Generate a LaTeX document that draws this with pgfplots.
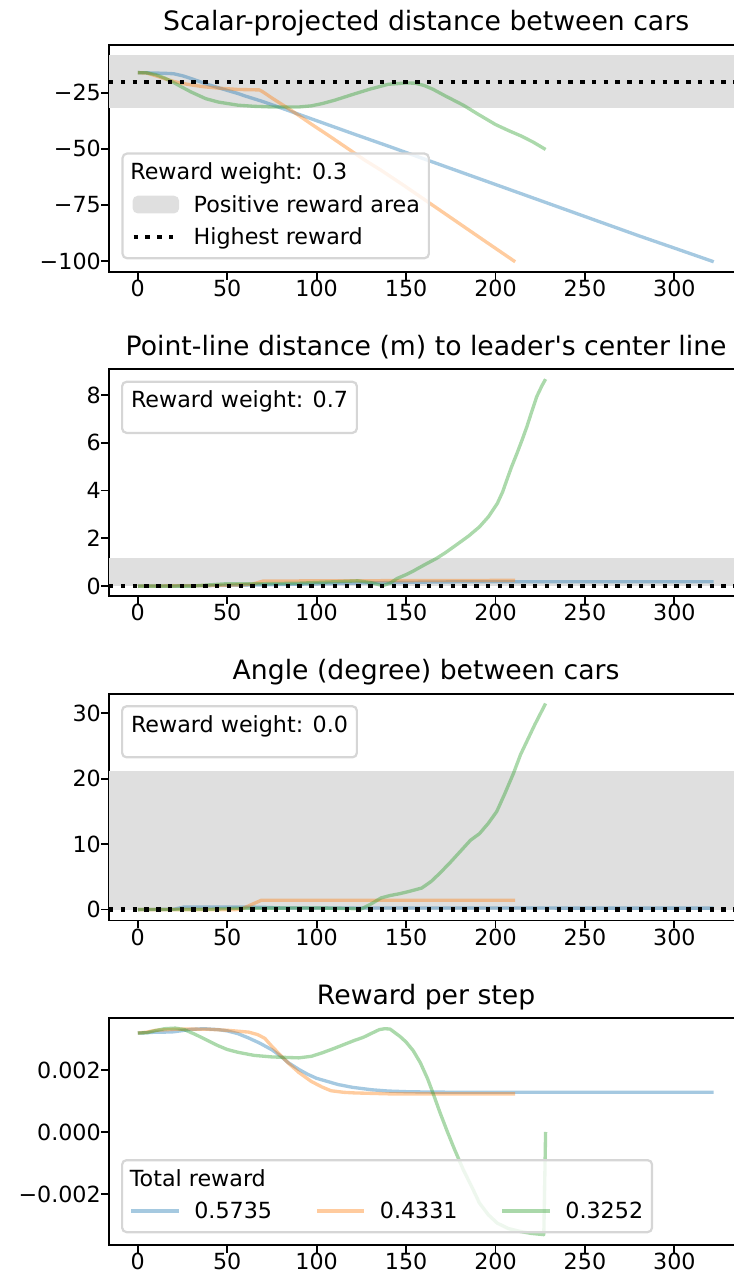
\documentclass[border=0pt]{standalone}
\usepackage{pgfplots}
\pgfplotsset{compat=1.18}
\usepackage{fontspec}
\setmainfont{DejaVu Sans}[Ligatures=TeXOff]

\definecolor{tabblue}{RGB}{31,119,180}
\definecolor{taborange}{RGB}{255,127,14}
\definecolor{tabgreen}{RGB}{44,160,44}
\definecolor{bandgray}{RGB}{223,223,223}
\definecolor{framegray}{RGB}{214,214,214}

\pgfplotsset{
  panel/.style={
    scale only axis, width=285.4pt, height=102.06pt,
    anchor=north west,
    xmin=-16.1, xmax=338.5,
    xtick={0,50,...,300},
    xticklabels={0,50,100,150,200,250,300},
    scaled y ticks=false,
    tick align=outside, tick pos=left,
    major tick length=3.5pt,
    every tick/.style={black, line width=0.8pt},
    axis line style={line width=0.8pt},
    tick label style={font=\fontsize{10}{12}\selectfont},
    xticklabel style={anchor=north, inner sep=0pt},
    yticklabel style={anchor=east, inner sep=0pt},
    every axis title/.style={at={(0.5,1)}, anchor=base, yshift=6.4pt, inner sep=0pt,
      font=\fontsize{12}{14}\selectfont},
    legend style={font=\fontsize{10}{12}\selectfont, draw=framegray, line width=1pt,
      rounded corners=2pt, fill=white, fill opacity=0.8, text opacity=1, draw opacity=1,
      inner xsep=4pt, inner ysep=4pt, row sep=5pt, column sep=8pt,
      nodes={inner sep=0pt, text height=7.7pt, text depth=2pt}},
    legend cell align=left,
  },
  data/.style={line width=1.5pt, draw opacity=0.4, line join=round, forget plot},
  band/.style={draw=none, fill=bandgray, forget plot},
  best/.style={black, line width=2pt, dash pattern=on 2pt off 3.3pt, forget plot},
  handle line/.style={legend image code/.code={\draw[##1, line cap=rect] (0pt,0.6pt) -- (20pt,0.6pt);}},
  handle patch/.style={legend image code/.code={\fill[bandgray, fill opacity=1] (0pt,-2.9pt) rectangle (20pt,4.1pt);}},
  handle dots/.style={legend image code/.code={\draw[black, line width=2pt, dash pattern=on 2pt off 3.3pt] (0pt,0.6pt) -- (20pt,0.6pt);}},
  no handle/.style={legend image code/.code={}},
}

\begin{document}
\begin{tikzpicture}

% ---------- Scalar-projected distance ----------
\begin{axis}[panel, at={(49.05pt,-20.25pt)},
  ymin=-104.76, ymax=-3.8,
  ytick={-100,-75,-50,-25}, yticklabels={−100,−75,−50,−25},
  title={Scalar-projected distance between cars},
  legend style={at={(0,0)}, anchor=south west, xshift=5.6pt, yshift=5.6pt, column sep=6pt}]
\addplot[band] coordinates {(-20,-31.7) (345,-31.7) (345,-8.2) (-20,-8.2)} -- cycle;
\addplot[data, tabblue] coordinates {
(0,-16.1) (5,-16.2) (10,-16.3) (15,-16.4) (20,-16.6) (25,-17.5) (30,-18.8) (35,-20.2)
(40,-21.6) (45,-22.8) (50,-24.0) (56,-25.4) (60,-26.5) (70,-29.0) (80,-31.8)
(100,-37.5) (120,-43.2) (140,-48.8) (160,-54.5) (180,-60.2) (200,-65.9) (220,-71.6)
(240,-77.3) (260,-83.0) (280,-88.7) (300,-94.2) (322,-100.3)};
\addplot[data, taborange] coordinates {
(0,-16.1) (5,-16.3) (10,-17.5) (15,-18.8) (20,-20.0) (25,-20.9) (30,-21.6) (37,-22.4)
(45,-23.0) (56,-23.6) (62,-23.7) (68,-23.8) (70,-24.7) (75,-27.4) (86,-33.0) (97,-39.0)
(108,-44.8) (127,-55.1) (135.5,-59.3) (150,-67.0) (163,-74.1) (180,-83.4) (195,-91.6)
(211,-100.3)};
\addplot[data, tabgreen] coordinates {
(0,-16.1) (5,-16.2) (10,-17.0) (15,-18.5) (20,-20.5) (25,-22.7) (30,-24.8) (38,-27.7)
(45,-29.2) (56,-30.6) (65,-31.1) (75,-31.4) (90,-31.4) (97,-30.9) (103,-29.9) (110,-28.4)
(121,-25.6) (130,-23.4) (140,-21.3) (150,-20.7) (155,-20.8) (160,-21.8) (165,-23.5)
(172,-26.5) (182,-30.6) (190,-34.5) (200,-39.2) (207,-41.8) (214,-44.2) (221,-47.0)
(228,-50.3)};
\addplot[best] coordinates {(-16.1,-20.2) (338.5,-20.2)};
\addlegendimage{no handle}
\addlegendentry{\hspace*{-28.5pt}Reward weight: 0.3}
\addlegendimage{handle patch}
\addlegendentry{Positive reward area}
\addlegendimage{handle dots}
\addlegendentry{Highest reward}
\end{axis}

% ---------- Point-line distance ----------
\begin{axis}[panel, at={(49.05pt,-166.2pt)},
  ymin=-0.42, ymax=9.08,
  ytick={0,2,4,6,8}, yticklabels={0,2,4,6,8},
  title={Point-line distance (m) to leader's center line},
  legend style={at={(0,1)}, anchor=north west, xshift=5.4pt, yshift=-5.1pt,
    column sep=0pt, nodes={text depth=7.3pt}}]
\addplot[band] coordinates {(-20,0) (345,0) (345,1.16) (-20,1.16)} -- cycle;
\addplot[data, tabblue] coordinates {
(0,0.0) (30,0.01) (60,0.04) (90,0.08) (120,0.12) (150,0.16) (180,0.18) (322,0.18)};
\addplot[data, taborange] coordinates {
(0,0.0) (40,0.02) (60,0.06) (64,0.08) (70,0.21) (100,0.22) (150,0.23) (211,0.24)};
\addplot[data, tabgreen] coordinates {
(0,0.0) (30,0.0) (40,0.05) (50,0.1) (70,0.1) (90,0.12) (110,0.18) (123,0.22) (130,0.15)
(137,0.02) (141,0.12) (145,0.32) (150,0.48) (154,0.63) (160,0.88) (167,1.16) (172,1.4)
(178,1.72) (185,2.1) (191,2.48) (196,2.9) (201,3.46) (204,3.95) (206.3,4.44) (209,5.0)
(212,5.56) (215,6.15) (217.5,6.67) (220,7.25) (223,7.93) (226,8.4) (228,8.67)};
\addplot[best] coordinates {(-16.1,0) (338.5,0)};
\addlegendimage{no handle}
\addlegendentry{Reward weight: 0.7}
\end{axis}

% ---------- Angle between cars ----------
\begin{axis}[panel, at={(49.05pt,-312.2pt)},
  ymin=-1.68, ymax=32.99,
  ytick={0,10,20,30}, yticklabels={0,10,20,30},
  title={Angle (degree) between cars},
  legend style={at={(0,1)}, anchor=north west, xshift=5.4pt, yshift=-5.1pt,
    column sep=0pt, nodes={text depth=7.3pt}}]
\addplot[band] coordinates {(-20,0) (345,0) (345,21.2) (-20,21.2)} -- cycle;
\addplot[data, tabblue] coordinates {
(0,0.0) (20,0.05) (26,0.4) (60,0.4) (70,0.35) (80,0.25) (322,0.22)};
\addplot[data, taborange] coordinates {
(0,0.0) (55,0.0) (58,0.1) (69,1.42) (211,1.42)};
\addplot[data, tabgreen] coordinates {
(0,0.0) (40,0.05) (55,0.2) (100,0.25) (120,0.15) (125,0.1) (130,0.8) (136,1.78)
(141,2.15) (146.6,2.44) (152,2.8) (158.8,3.3) (164,4.3) (169,5.6) (175,7.3) (182,9.4)
(186,10.6) (191,11.6) (196,13.2) (200.7,15.0) (205,17.6) (210,20.8) (214,23.7)
(218,26.0) (222,28.3) (228,31.5)};
\addplot[best] coordinates {(-16.1,0) (338.5,0)};
\addlegendimage{no handle}
\addlegendentry{Reward weight: 0.0}
\end{axis}

% ---------- Reward per step ----------
\begin{axis}[panel, at={(49.05pt,-458.2pt)},
  ymin=-0.003645, ymax=0.003668,
  ytick={-0.002,0,0.002}, yticklabels={−0.002,0.000,0.002},
  title={Reward per step},
  legend columns=3,
  legend style={at={(0,0)}, anchor=south west, xshift=5.4pt, yshift=5.3pt, column sep=7pt,
    /tikz/every even column/.append style={column sep=20pt}}]
\addplot[data, tabblue] coordinates {
(0,0.00319) (5,0.00320) (10,0.00322) (15,0.00322) (20,0.00323) (25,0.00327) (30,0.00331)
(37,0.00333) (45,0.00330) (50,0.00326) (56,0.00317) (62,0.00303) (68,0.00287) (75,0.00265)
(80,0.00244) (84,0.00224) (90,0.00202) (95,0.00186) (100,0.00173) (106,0.00163)
(112,0.00153) (120,0.00144) (131,0.00136) (140,0.00132) (150,0.00130) (165,0.001285)
(200,0.00128) (322,0.00128)};
\addplot[data, taborange] coordinates {
(0,0.00319) (5,0.00322) (10,0.00328) (20,0.00331) (28,0.00332) (40,0.00331) (50,0.00328)
(56,0.00325) (62,0.00322) (67,0.00314) (71,0.00302) (75,0.00276) (80,0.00246) (84,0.00223)
(90,0.00192) (97,0.00163) (103,0.00145) (108,0.00133) (115,0.00128) (121,0.00126)
(140,0.00123) (211,0.00123)};
\addplot[data, tabgreen] coordinates {
(0,0.00319) (5,0.00320) (10,0.00327) (15,0.00333) (21,0.00335) (26,0.00330) (32,0.00315)
(38,0.00298) (45,0.00278) (50,0.00266) (56,0.00257) (65,0.00247) (75,0.00242) (90,0.00239)
(97,0.00244) (103,0.00255) (110,0.00270) (121,0.00295) (126,0.00305) (131,0.00319)
(135,0.00330) (138,0.00333) (141,0.00332) (146.6,0.00308) (150,0.00290) (154,0.00262)
(158,0.00223) (162,0.00172) (165,0.00126) (169,0.00062) (173,0.00002) (177,-0.00055)
(182,-0.00122) (187,-0.00180) (191,-0.00229) (196,-0.00267) (201,-0.00294) (207,-0.00311)
(214,-0.00321) (220,-0.00327) (227,-0.00331) (228,0.0)};
\addlegendimage{no handle}
\addlegendentry{\hspace*{-29pt}Total reward}
\addlegendimage{no handle}
\addlegendentry{}
\addlegendimage{no handle}
\addlegendentry{}
\addlegendimage{handle line, tabblue, line width=1.5pt, draw opacity=0.4}
\addlegendentry{0.5735}
\addlegendimage{handle line, taborange, line width=1.5pt, draw opacity=0.4}
\addlegendentry{0.4331}
\addlegendimage{handle line, tabgreen, line width=1.5pt, draw opacity=0.4}
\addlegendentry{0.3252}
\end{axis}

\pgfresetboundingbox
\useasboundingbox (0pt,0pt) rectangle (329.85pt,-576.9pt);
\end{tikzpicture}
\end{document}
